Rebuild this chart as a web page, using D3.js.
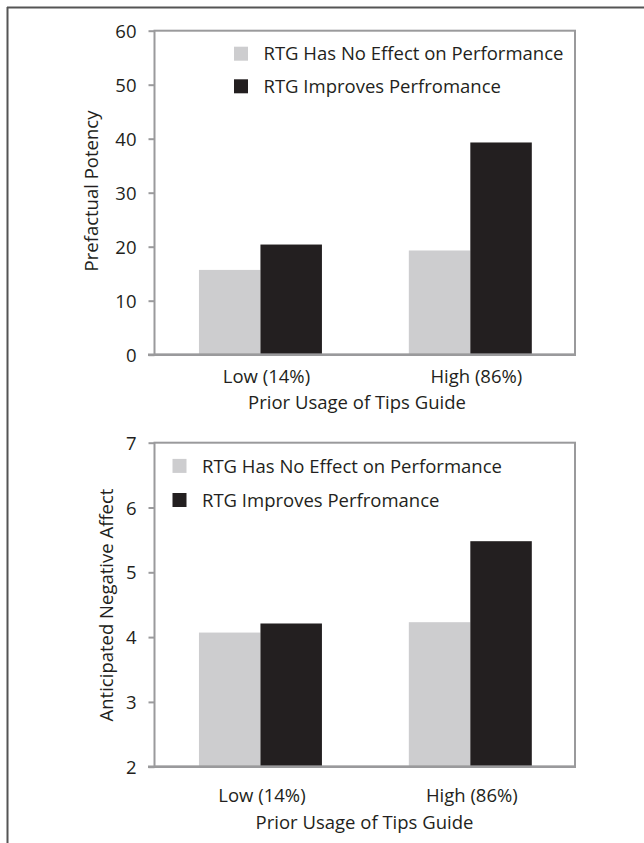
<!DOCTYPE html>
<html>
<head>
<meta charset="utf-8">
<script src="https://cdn.jsdelivr.net/npm/d3@7"></script>
<style>
  html, body { margin: 0; padding: 0; background: #fff; }
  svg { display: block; }
  text { font-family: "Open Sans", sans-serif; fill: #231f20; }
</style>
</head>
<body>
<svg id="chart" width="644" height="843"></svg>
<script>
// ---- data ----
const categories = ["Low (14%)", "High (86%)"];
const seriesNames = ["RTG Has No Effect on Performance", "RTG Improves Perfromance"];
const potencyNoEffect = [15.7, 19.3];
const potencyImproves = [20.4, 39.3];
const affectNoEffect = [4.07, 4.23];
const affectImproves = [4.21, 5.48];
const potencyTicks = [0, 10, 20, 30, 40, 50, 60];
const affectTicks = [2, 3, 4, 5, 6, 7];
const xTitle = "Prior Usage of Tips Guide";

const colors = ["#cdcdcf", "#231f20"];
const axisColor = "#9a9a9c";
const fs = 18.5;

const svg = d3.select("#chart");

// outer frame (top and left)
svg.append("line").attr("x1", 7).attr("x2", 644).attr("y1", 7.5).attr("y2", 7.5)
  .attr("stroke", "#555").attr("stroke-width", 2);
svg.append("line").attr("x1", 7.5).attr("x2", 7.5).attr("y1", 7).attr("y2", 843)
  .attr("stroke", "#555").attr("stroke-width", 2);

function drawPanel(cfg) {
  const g = svg.append("g");
  const x = d3.scaleBand().domain(categories).range([154, 575])
    .paddingInner(0.414).paddingOuter(0.21).align(0.51);
  const xs = d3.scaleBand().domain([0, 1]).range([0, x.bandwidth()]);
  const y = d3.scaleLinear().domain(cfg.domain).range([cfg.bottom, cfg.top]);

  const series = [cfg.s0, cfg.s1];
  // bars
  series.forEach((vals, si) => {
    g.selectAll(null).data(categories).enter().append("rect")
      .attr("x", d => x(d) + xs(si))
      .attr("width", xs.bandwidth())
      .attr("y", (d, i) => y(vals[i]))
      .attr("height", (d, i) => y(cfg.domain[0]) - y(vals[i]))
      .attr("fill", colors[si]);
  });

  // plot frame
  g.append("rect").attr("x", 154.5).attr("y", y(cfg.domain[1]))
    .attr("width", 575 - 154.5).attr("height", y(cfg.domain[0]) - y(cfg.domain[1]))
    .attr("fill", "none").attr("stroke", axisColor).attr("stroke-width", 2);

  // y axis
  const yAxis = d3.axisLeft(y).tickValues(cfg.ticks).tickSize(6).tickPadding(12)
    .tickFormat(d3.format("d"));
  const ya = g.append("g").attr("transform", "translate(154.5,0)").call(yAxis);
  ya.select(".domain").remove();
  ya.selectAll(".tick line").attr("stroke", axisColor).attr("stroke-width", 2);
  ya.selectAll(".tick text").attr("font-size", fs).attr("font-family", "Open Sans")
    .attr("fill", "#231f20").attr("dy", "0.36em");
  // extend bottom axis line leftwards
  g.append("line").attr("x1", 148).attr("x2", 576)
    .attr("y1", y(cfg.domain[0])).attr("y2", y(cfg.domain[0]))
    .attr("stroke", axisColor).attr("stroke-width", 2.5);

  // x axis labels
  g.selectAll(null).data(categories).enter().append("text")
    .attr("x", d => x(d) + x.bandwidth() / 2 + cfg.labelDx)
    .attr("y", cfg.labelY)
    .attr("text-anchor", "middle").attr("font-size", fs)
    .text(d => d);

  // x title
  g.append("text").attr("x", 364.5 + cfg.titleDx).attr("y", cfg.titleY)
    .attr("text-anchor", "middle").attr("font-size", fs).text(xTitle);

  // y title
  g.append("text")
    .attr("transform", `translate(${cfg.yTitleX},${cfg.yTitleY}) rotate(-90)`)
    .attr("text-anchor", "middle").attr("font-size", fs).text(cfg.yTitle);

  // legend
  seriesNames.forEach((name, i) => {
    g.append("rect").attr("x", cfg.legX).attr("y", cfg.legY[i] - 7)
      .attr("width", 14).attr("height", 14).attr("fill", colors[i]);
    g.append("text").attr("x", cfg.legX + 29.5).attr("y", cfg.legY[i] + 6.6)
      .attr("font-size", fs).text(name);
  });
}

drawPanel({
  domain: [0, 60], ticks: potencyTicks, top: 30.7, bottom: 354.7,
  s0: potencyNoEffect, s1: potencyImproves,
  labelY: 382.7, labelDx: 6, titleY: 409, titleDx: -7.5,
  yTitle: "Prefactual Potency", yTitleX: 97.5, yTitleY: 191,
  legX: 234, legY: [53.7, 86.3]
});

drawPanel({
  domain: [2, 7], ticks: affectTicks, top: 442.7, bottom: 766.7,
  s0: affectNoEffect, s1: affectImproves,
  labelY: 801.7, labelDx: 1.5, titleY: 829, titleDx: 0,
  yTitle: "Anticipated Negative Affect", yTitleX: 113, yTitleY: 605,
  legX: 172.5, legY: [465.9, 500]
});
</script>
</body>
</html>
